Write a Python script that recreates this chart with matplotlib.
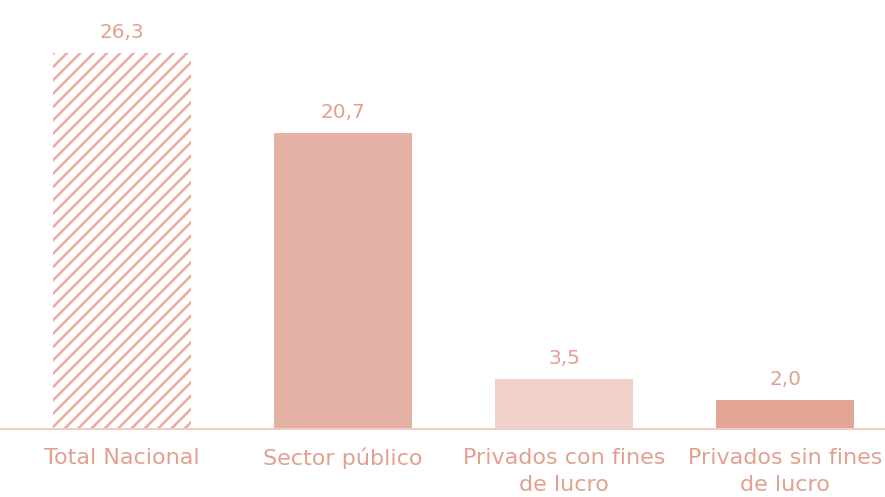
import matplotlib
matplotlib.use("Agg")
import matplotlib.pyplot as plt

categorias = ["Total Nacional", "Sector público", "Privados con fines\nde lucro", "Privados sin fines\nde lucro"]
valores = [26.3, 20.7, 3.5, 2.0]
etiquetas = ["26,3", "20,7", "3,5", "2,0"]

colores = ["white", "#e6b1a5", "#f0d0c8", "#e2a595"]
color_texto = "#e3a08f"
color_rayas = "#eaa999"

plt.rcParams["font.family"] = ["DejaVu Sans"]
plt.rcParams["hatch.linewidth"] = 2.2

fig = plt.figure(figsize=(885 / 80, 497 / 80), dpi=80)
ax = fig.add_axes([0, 0.137, 1, 0.863])

x = range(len(valores))
barras = ax.bar(x, valores, width=0.625, color=colores, linewidth=0)
barras[0].set_hatch("//")
barras[0].set_edgecolor(color_rayas)

for i, (v, t) in enumerate(zip(valores, etiquetas)):
    ax.annotate(t, (i, v), xytext=(0, 10), textcoords="offset points",
                ha="center", va="bottom", fontsize=18, color=color_texto)

ax.set_xlim(-0.552, 3.452)
ax.set_ylim(0, 30)
ax.set_xticks(list(x))
ax.set_xticklabels(categorias, fontsize=20, color=color_texto)
for lbl in ax.get_xticklabels():
    lbl.set_linespacing(1.45)
ax.tick_params(axis="x", length=0, pad=17)
ax.set_yticks([])
for lado in ["top", "left", "right"]:
    ax.spines[lado].set_visible(False)
ax.spines["bottom"].set_color("#f2cdc5")
ax.spines["bottom"].set_linewidth(1.8)

fig.savefig("out.png", dpi=80, facecolor="white")
